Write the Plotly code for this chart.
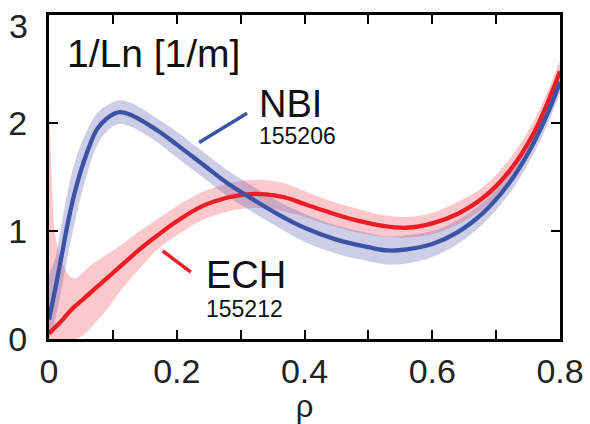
import plotly.graph_objects as go

# ---------------- data ----------------
rho_nbi = [0, 0.01, 0.02, 0.03, 0.04, 0.055, 0.075, 0.09, 0.11, 0.13, 0.17, 0.2, 0.24, 0.28,
           0.32, 0.36, 0.4, 0.45, 0.5, 0.53, 0.56, 0.6, 0.64, 0.68, 0.72, 0.75, 0.78, 0.8]
nbi_mid = [0.18, 0.47, 0.78, 1.09, 1.35, 1.65, 1.94, 2.04, 2.10, 2.07, 1.93, 1.80, 1.62, 1.44,
           1.29, 1.15, 1.03, 0.92, 0.85, 0.82, 0.83, 0.88, 0.99, 1.17, 1.44, 1.72, 2.08, 2.38]
nbi_lo = [0.0, 0.19, 0.48, 0.79, 1.07, 1.43, 1.79, 1.92, 1.99, 1.96, 1.82, 1.68, 1.50, 1.32,
          1.17, 1.03, 0.90, 0.79, 0.72, 0.69, 0.70, 0.76, 0.88, 1.07, 1.34, 1.62, 1.98, 2.28]
nbi_hi = [0.6, 0.75, 1.08, 1.39, 1.63, 1.87, 2.09, 2.16, 2.21, 2.18, 2.04, 1.92, 1.74, 1.56,
          1.41, 1.27, 1.16, 1.05, 0.98, 0.95, 0.96, 1.00, 1.10, 1.27, 1.54, 1.82, 2.18, 2.48]

rho_ech = [0, 0.005, 0.01, 0.02, 0.03, 0.04, 0.05, 0.065, 0.09, 0.115, 0.14, 0.17, 0.2, 0.24,
           0.28, 0.31, 0.34, 0.37, 0.4, 0.44, 0.48, 0.52, 0.56, 0.6, 0.64, 0.68, 0.72, 0.76, 0.8]
ech_mid = [0.05, 0.08, 0.11, 0.17, 0.24, 0.30, 0.35, 0.43, 0.56, 0.69, 0.82, 0.96, 1.09, 1.23,
           1.31, 1.34, 1.34, 1.31, 1.25, 1.17, 1.10, 1.05, 1.03, 1.07, 1.16, 1.31, 1.55, 1.92, 2.48]
ech_lo = [0.0, 0.0, 0.0, 0.0, 0.0, 0.0, 0.02, 0.10, 0.27, 0.47, 0.64, 0.83, 0.96, 1.10,
          1.18, 1.21, 1.21, 1.18, 1.13, 1.05, 0.99, 0.95, 0.94, 0.97, 1.06, 1.21, 1.45, 1.82, 2.38]
ech_hi = [2.2, 1.4, 0.95, 0.72, 0.60, 0.56, 0.60, 0.68, 0.78, 0.88, 0.99, 1.11, 1.23, 1.36,
          1.44, 1.47, 1.47, 1.44, 1.37, 1.28, 1.21, 1.15, 1.13, 1.17, 1.27, 1.41, 1.66, 2.03, 2.58]

x_ticks = [0, 0.1, 0.2, 0.3, 0.4, 0.5, 0.6, 0.7, 0.8]
x_ticktext = ["0", "", "0.2", "", "0.4", "", "0.6", "", "0.8"]
y_ticks = [0, 1, 2, 3]
y_ticktext = ["0", "1", "2", ""]   # the top label "3" is placed separately, nudged below the frame top
y_top_label = "3"

title_text = "1/Ln [1/m]"
nbi_label, nbi_shot = "NBI", "155206"
ech_label, ech_shot = "ECH", "155212"

# ---------------- style ----------------
BLUE = "#3a53a4"
RED = "#ee1c25"
BLUE_BAND = "rgba(90,90,180,0.30)"
RED_BAND = "rgba(238,28,37,0.24)"
FONT = "Liberation Sans, Arial, Helvetica, sans-serif"
TICK_COLOR = "#222"
SM = 1.0

fig = go.Figure()

def band(x, lo, hi, color):
    fig.add_trace(go.Scatter(x=x, y=lo, mode="lines", line=dict(width=0, shape="spline", smoothing=SM),
                             hoverinfo="skip", showlegend=False))
    fig.add_trace(go.Scatter(x=x, y=hi, mode="lines", line=dict(width=0, shape="spline", smoothing=SM),
                             fill="tonexty", fillcolor=color, hoverinfo="skip", showlegend=False))

band(rho_ech, ech_lo, ech_hi, RED_BAND)
band(rho_nbi, nbi_lo, nbi_hi, BLUE_BAND)
fig.add_trace(go.Scatter(x=rho_ech, y=ech_mid, mode="lines",
                         line=dict(color=RED, width=4.3, shape="spline", smoothing=SM), showlegend=False))
fig.add_trace(go.Scatter(x=rho_nbi, y=nbi_mid, mode="lines",
                         line=dict(color=BLUE, width=4.3, shape="spline", smoothing=SM), showlegend=False))

# leader lines for labels
fig.add_shape(type="line", x0=0.235, y0=1.82, x1=0.31, y1=2.09, line=dict(color=BLUE, width=3.5))
fig.add_shape(type="line", x0=0.178, y0=0.815, x1=0.222, y1=0.62, line=dict(color=RED, width=3.5))

def txt(x, y, s, size):
    fig.add_annotation(x=x, y=y, text=s, showarrow=False, xanchor="left", yanchor="middle",
                       font=dict(size=size, color="#111", family=FONT))

txt(0.025, 2.64, title_text, 39)
txt(0.325, 2.18, nbi_label, 38)
txt(0.325, 1.88, nbi_shot, 23)
txt(0.242, 0.59, ech_label, 38)
txt(0.242, 0.28, ech_shot, 23)

# top y tick label, slightly below the frame's top edge as in the original
fig.add_annotation(xref="paper", x=0, y=y_ticks[-1], text=y_top_label, showarrow=False,
                   xanchor="right", yanchor="middle", xshift=-19, yshift=-11,
                   font=dict(size=34, color=TICK_COLOR, family=FONT))

axis_common = dict(showline=True, linecolor="black", linewidth=3, mirror="ticks",
                   ticks="inside", ticklen=9, tickwidth=2, tickcolor="black",
                   showgrid=False, zeroline=False, automargin=False,
                   ticklabeloverflow="allow",
                   tickfont=dict(size=34, color=TICK_COLOR, family=FONT))

fig.update_xaxes(range=[0, 0.8], tickmode="array", tickvals=x_ticks, ticktext=x_ticktext,
                 title=dict(text="ρ", font=dict(size=31, color=TICK_COLOR, family=FONT), standoff=7),
                 ticklabelstandoff=0, **axis_common)
fig.update_yaxes(range=[0, 3], tickmode="array", tickvals=y_ticks, ticktext=y_ticktext,
                 ticklabelstandoff=12, **axis_common)

fig.update_layout(width=590, height=424, margin=dict(l=49, r=30, t=15, b=85),
                  plot_bgcolor="white", paper_bgcolor="white", showlegend=False)

fig.write_html("out.html")
